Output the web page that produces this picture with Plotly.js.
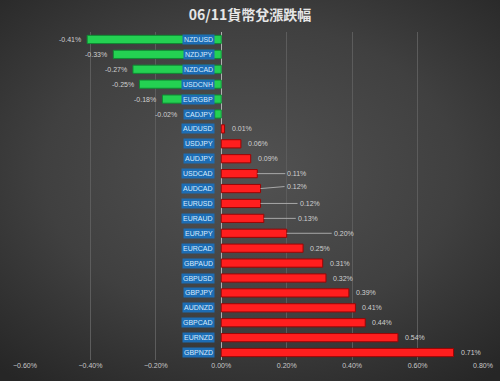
<!DOCTYPE html>
<html>
<head>
<meta charset="utf-8">
<script src="https://cdn.plot.ly/plotly-3.0.1.min.js"></script>
<style>
  html, body { margin:0; padding:0; }
  #chart { width:500px; height:381px;
    background: radial-gradient(ellipse 75% 70% at 50% 45%, #525252 0%, #404040 55%, #262626 100%); }
</style>
</head>
<body>
<div id="chart"></div>
<script>
const pairs = ["NZDUSD","NZDJPY","NZDCAD","USDCNH","EURGBP","CADJPY","AUDUSD","USDJPY","AUDJPY","USDCAD","AUDCAD","EURUSD","EURAUD","EURJPY","EURCAD","GBPAUD","GBPUSD","GBPJPY","AUDNZD","GBPCAD","EURNZD","GBPNZD"];
const changes = [-0.0041,-0.0033,-0.0027,-0.0025,-0.0018,-0.0002,0.0001,0.0006,0.0009,0.0011,0.0012,0.0012,0.0013,0.0020,0.0025,0.0031,0.0032,0.0039,0.0041,0.0044,0.0054,0.0071];
const tickVals = [-0.006,-0.004,-0.002,0,0.002,0.004,0.006,0.008];
const titleText = "06/11貨幣兌漲跌幅";

// label leader-line offsets and special shifts (style only)
const leader = {USDCAD:[28,0], AUDCAD:[24,-2], EURUSD:[37,0], EURAUD:[32,0], EURJPY:[45,0]};
const labelShift = {CADJPY:-36};

const fillCol = changes.map(v => v < 0 ? "#24d152" : "#ff1e1e");
const edgeCol = changes.map(v => v < 0 ? "#0f8a33" : "#9a0505");

const trace = {
  type: "bar", orientation: "h",
  x: changes, y: pairs,
  marker: { color: fillCol, line: { color: edgeCol, width: 1 } },
  hoverinfo: "none"
};

const ann = [];
pairs.forEach((p) => {
  ann.push({ x: 0, y: p, text: p, showarrow: false, xanchor: "right", xshift: -6,
    bgcolor: "#1d6db4", borderpad: 1,
    font: { family: "Liberation Sans, Arial", size: 7, color: "#d6ebff" } });
});
changes.forEach((v, i) => {
  const txt = (v*100).toFixed(2) + "%";
  const L = leader[pairs[i]];
  if (L) {
    ann.push({ x: v, y: pairs[i], text: txt, showarrow: true, arrowhead: 0, arrowwidth: 1,
      arrowcolor: "#a8a8a8", ax: L[0], ay: L[1], xanchor: "left", standoff: 0,
      font: { family: "Liberation Sans, Arial", size: 7, color: "#d0d0d0" } });
  } else {
    const s = labelShift[pairs[i]] !== undefined ? labelShift[pairs[i]] : (v < 0 ? -4 : 5);
    ann.push({ x: v, y: pairs[i], text: txt, showarrow: false,
      xanchor: v < 0 ? "right" : "left", xshift: s,
      font: { family: "Liberation Sans, Arial", size: 7, color: "#d0d0d0" } });
  }
});

const layout = {
  width: 500, height: 381,
  margin: { l: 25, r: 17, t: 32, b: 21 },
  paper_bgcolor: "rgba(0,0,0,0)", plot_bgcolor: "rgba(0,0,0,0)",
  title: { text: titleText, x: 0.5, xanchor: "center", y: 1 - 15/381, yanchor: "middle",
    font: { family: "Noto Sans CJK TC, sans-serif", size: 14, color: "#e6e6e6", weight: "bold" } },
  xaxis: { range: [-0.006, 0.008], tickvals: tickVals, tickformat: ".2%",
    showgrid: true, gridcolor: "#5c5c5c", gridwidth: 1,
    zeroline: true, zerolinecolor: "#b0b0b0", zerolinewidth: 1,
    showline: false, ticks: "",
    tickfont: { family: "Liberation Sans, Arial", size: 7, color: "#c8c8c8" } },
  yaxis: { autorange: "reversed", showticklabels: false, showgrid: false, zeroline: false, ticks: "" },
  bargap: 0.45,
  showlegend: false,
  annotations: ann
};

Plotly.newPlot("chart", [trace], layout, { staticPlot: true, displayModeBar: false });
</script>
</body>
</html>
